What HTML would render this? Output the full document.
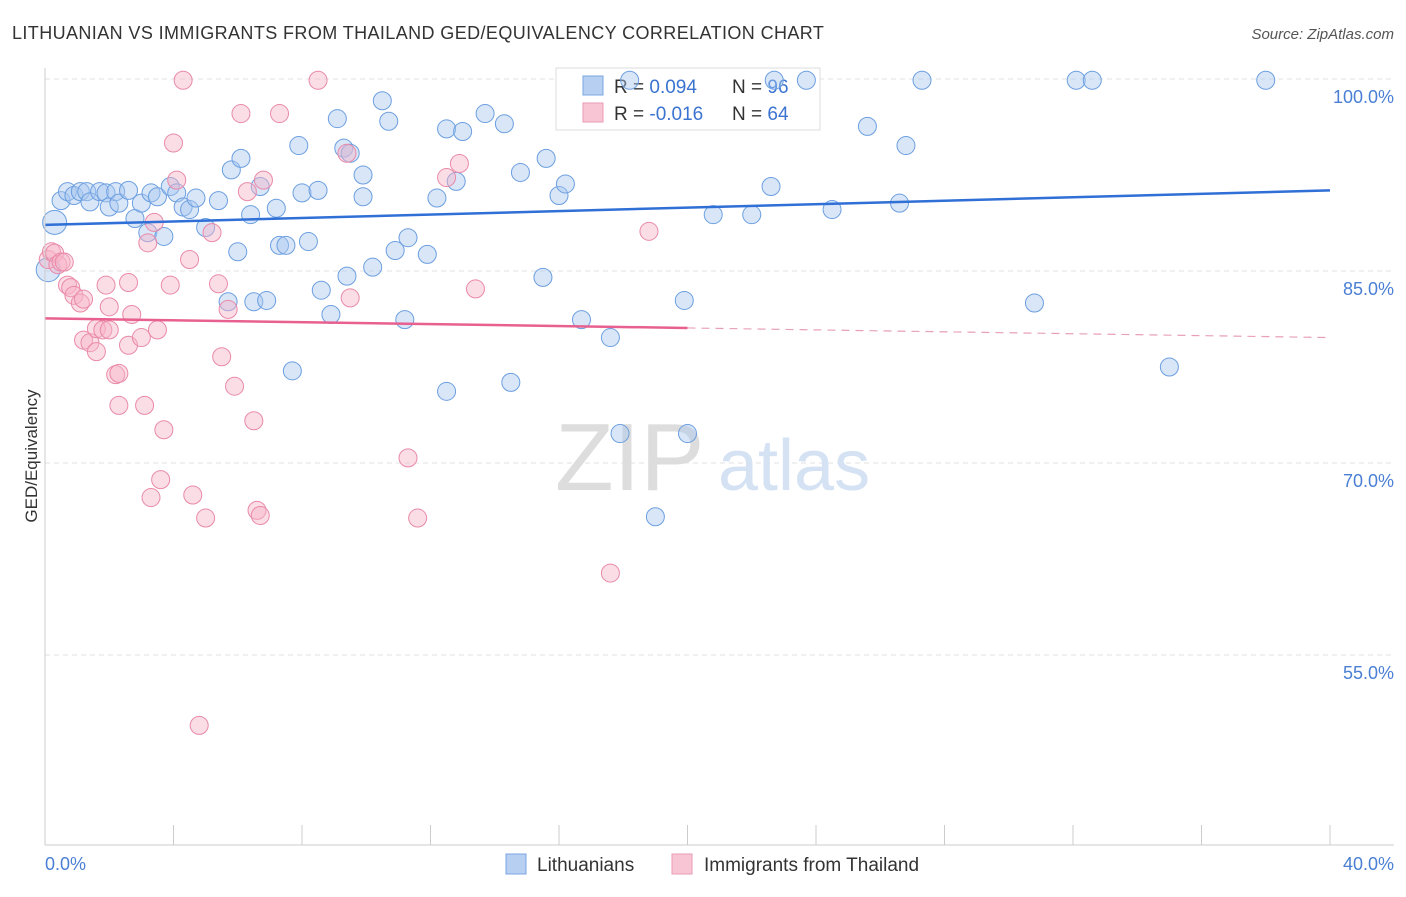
<!DOCTYPE html>
<html><head><meta charset="utf-8"><style>
body{margin:0;background:#fff;font-family:"Liberation Sans",sans-serif}
svg text{font-family:"Liberation Sans",sans-serif}
</style></head><body>
<svg id="chart" width="1406" height="892" xmlns="http://www.w3.org/2000/svg">
<text x="12" y="39" font-size="18" fill="#333" letter-spacing="0.4">LITHUANIAN VS IMMIGRANTS FROM THAILAND GED/EQUIVALENCY CORRELATION CHART</text>
<text x="1394" y="39" font-size="15" fill="#555" font-style="italic" text-anchor="end">Source: ZipAtlas.com</text>
<g id="grid"></g>
<text x="555" y="490" font-size="96" fill="#ddd" font-family="Liberation Serif">ZIP</text>
<text x="718" y="490" font-size="72" fill="#d4e2f4">atlas</text>
<g>
<rect x="556" y="68" width="264" height="62" fill="#fff" stroke="#ddd"/>
<rect x="583" y="76" width="20" height="19" fill="#b7d0f2" stroke="#7aa6e0"/>
<rect x="583" y="103" width="20" height="19" fill="#f8c5d5" stroke="#eb9ab4"/>
<text x="614" y="93" font-size="19" fill="#333">R = <tspan fill="#3a73d0">0.094</tspan></text>
<text x="732" y="93" font-size="19" fill="#333">N = <tspan fill="#3a73d0">96</tspan></text>
<text x="614" y="120" font-size="19" fill="#333">R = <tspan fill="#3a73d0">-0.016</tspan></text>
<text x="732" y="120" font-size="19" fill="#333">N = <tspan fill="#3a73d0">64</tspan></text>
</g>
<g id="marks"></g>
<line x1="45" y1="68" x2="45" y2="845" stroke="#ccc"/>
<line x1="45" y1="845" x2="1394" y2="845" stroke="#ccc"/>
<text x="37" y="456" font-size="17" fill="#333" transform="rotate(-90 37 456)" text-anchor="middle">GED/Equivalency</text>
<text x="45" y="870" font-size="18" fill="#4a7fd4">0.0%</text>
<text x="1394" y="870" font-size="18" fill="#4a7fd4" text-anchor="end">40.0%</text>
<g>
<rect x="506" y="854" width="20" height="20" fill="#b7d0f2" stroke="#7aa6e0"/>
<text x="537" y="871" font-size="19" fill="#333">Lithuanians</text>
<rect x="672" y="854" width="20" height="20" fill="#f8c5d5" stroke="#eb9ab4"/>
<text x="704" y="871" font-size="19" fill="#333">Immigrants from Thailand</text>
</g>
</svg>
<script>
const yTicks=[100,85,70,55];
const xTicks=[0,4,8,12,16,20,24,28,32,36,40];
const blueX=[0.3,0.1,0.5,0.7,0.9,1.1,1.3,1.4,1.7,1.9,2.0,2.2,2.3,2.6,2.8,3.0,3.2,3.3,3.5,3.7,3.9,4.1,4.3,4.5,4.7,5.0,5.4,5.7,5.8,6.0,6.1,6.4,6.5,6.7,6.9,7.2,7.3,7.5,7.7,7.9,8.0,8.2,8.5,8.6,8.9,9.1,9.3,9.4,9.5,9.9,9.9,10.2,10.5,10.7,10.9,11.2,11.3,11.9,12.2,12.5,12.5,12.8,13.0,13.7,14.3,14.5,14.8,15.5,15.6,16.0,16.2,16.7,17.6,17.9,18.2,19.0,19.9,20.0,20.8,22.0,22.6,22.7,23.7,24.5,25.6,26.6,26.8,27.3,30.8,32.1,32.6,35.0,38.0];
const blueY=[88.8,85.1,90.5,91.2,90.9,91.2,91.2,90.4,91.2,91.1,90.0,91.2,90.3,91.3,89.1,90.3,88.0,91.1,90.8,87.7,91.6,91.1,90.0,89.8,90.7,88.4,90.5,82.6,92.9,86.5,93.8,89.4,82.6,91.6,82.7,89.9,87.0,87.0,77.2,94.8,91.1,87.3,91.3,83.5,81.6,96.9,94.6,84.6,94.2,92.5,90.8,85.3,98.3,96.7,86.6,81.2,87.6,86.3,90.7,75.6,96.1,92.0,95.9,97.3,96.5,76.3,92.7,84.5,93.8,90.9,91.8,81.2,79.8,72.3,99.9,65.8,82.7,72.3,89.4,89.4,91.6,99.9,99.9,89.8,96.3,90.3,94.8,99.9,82.5,99.9,99.9,77.5,99.9];
const pinkX=[0.1,0.2,0.3,0.4,0.5,0.6,0.7,0.8,0.9,1.1,1.2,1.2,1.4,1.6,1.6,1.8,1.9,2.0,2.0,2.2,2.3,2.3,2.6,2.6,2.7,3.0,3.1,3.2,3.3,3.4,3.5,3.6,3.7,3.9,4.0,4.1,4.3,4.5,4.6,5.0,5.2,5.4,5.5,5.7,5.9,6.1,6.3,6.5,6.6,6.7,6.8,7.3,8.5,9.4,9.5,11.3,11.6,12.5,12.9,13.4,17.6,18.8,4.8];
const pinkY=[85.9,86.5,86.4,85.5,85.7,85.7,83.9,83.7,83.1,82.5,82.8,79.6,79.4,78.7,80.5,80.4,83.9,80.4,82.2,76.9,77.0,74.5,79.2,84.1,81.6,79.8,74.5,87.2,67.3,88.8,80.4,68.7,72.6,83.9,95.0,92.1,99.9,85.9,67.5,65.7,88.0,84.0,78.3,82.0,76.0,97.3,91.2,73.3,66.3,65.9,92.1,97.3,99.9,94.2,82.9,70.4,65.7,92.3,93.4,83.6,61.4,88.1,49.5];
const blueTrend=[88.6,91.3];
const pinkTrend=[81.3,79.8];
const X=v=>45+v/40*1285;
const Y=v=>79+(100-v)*12.8;
const NS="http://www.w3.org/2000/svg";
const grid=document.getElementById('grid'),marks=document.getElementById('marks'),svg=document.getElementById('chart');
function mk(tag,attrs,parent){const e=document.createElementNS(NS,tag);for(const k in attrs)e.setAttribute(k,attrs[k]);parent.appendChild(e);return e;}
yTicks.forEach(t=>{
 const l=mk('line',{x1:45,x2:1394,y1:Y(t),y2:Y(t),stroke:'#e2e2e2','stroke-dasharray':'5,4'},grid);
 
 
 const tx=mk('text',{x:1394,y:Y(t)+24,'font-size':18,fill:'#4a7fd4','text-anchor':'end'},svg);
 tx.textContent=t.toFixed(1)+'%';
 
 
});
xTicks.forEach(t=>{
 const l=mk('line',{x1:X(t),x2:X(t),y1:825,y2:845,stroke:'#ccc'},grid);
 
 
});
function dots(xs,ys,fill,stroke,name){
 xs.forEach((x,i)=>{
  const r=(i<2&&name==='lithuanian-point')?12:9;
  const c=mk('circle',{cx:X(x),cy:Y(ys[i]),r:r,fill:fill,'fill-opacity':0.45,stroke:stroke,'stroke-width':1},marks);
  
  
 });
}
dots(blueX,blueY,'#a9c7ef','#6c9fe0','lithuanian-point');
dots(pinkX,pinkY,'#f6b3c8','#e98aa9','thailand-point');
const bl=mk('line',{x1:X(0),y1:Y(blueTrend[0]),x2:X(40),y2:Y(blueTrend[1]),stroke:'#2f6fd6','stroke-width':2.5},marks);


const pm=pinkTrend[0]+(pinkTrend[1]-pinkTrend[0])*0.5;
const pl=mk('line',{x1:X(0),y1:Y(pinkTrend[0]),x2:X(20),y2:Y(pm),stroke:'#e8608f','stroke-width':2.5},marks);


const pd=mk('line',{x1:X(20),y1:Y(pm),x2:X(40),y2:Y(pinkTrend[1]),stroke:'#e8a0b8','stroke-width':1.2,'stroke-dasharray':'8,6'},marks);


</script>
</body></html>
